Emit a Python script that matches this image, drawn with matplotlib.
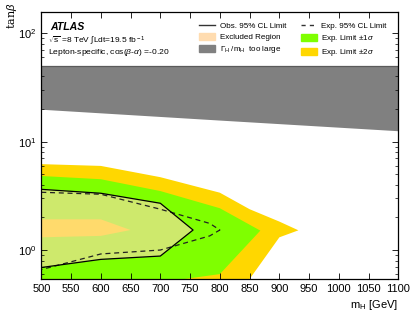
import matplotlib
matplotlib.use("Agg")
import matplotlib.pyplot as plt
from matplotlib.lines import Line2D
from matplotlib.patches import Patch

plt.rcParams['font.family'] = ['Liberation Sans', 'DejaVu Sans']
plt.rcParams['mathtext.fontset'] = 'custom'
plt.rcParams['mathtext.rm'] = 'Liberation Sans'
plt.rcParams['mathtext.it'] = 'Liberation Sans:italic'
plt.rcParams['mathtext.bf'] = 'Liberation Sans:bold'

# +-2 sigma band (outer edge upper / lower)
m_2s_up = [500, 600, 700, 800, 850, 900, 932]
tb_2s_up = [6.2, 5.97, 4.7, 3.38, 2.38, 1.83, 1.52]
m_2s_lo = [932, 900, 850, 800, 700, 500]
tb_2s_lo = [1.52, 1.31, 0.54, 0.45, 0.35, 0.30]

# +-1 sigma band
m_1s_up = [500, 600, 700, 800, 868]
tb_1s_up = [4.82, 4.5, 3.5, 2.43, 1.51]
m_1s_lo = [868, 800, 740, 700, 600, 500]
tb_1s_lo = [1.51, 0.60, 0.54, 0.51, 0.48, 0.45]

# inner part of the band (-1 sigma hole)
m_in_up = [500, 600, 650]
tb_in_up = [1.92, 1.92, 1.53]
m_in_lo = [650, 600, 500]
tb_in_lo = [1.53, 1.35, 1.31]

# observed limit
m_obs = [500, 600, 700, 755, 700, 600, 500]
tb_obs = [3.63, 3.34, 2.70, 1.53, 0.88, 0.82, 0.69]

# expected limit
m_exp = [500, 600, 700, 783, 800, 783, 700, 600, 500]
tb_exp = [3.41, 3.27, 2.38, 1.76, 1.53, 1.35, 1.00, 0.92, 0.66]

# width too large region
m_gam = [500, 800, 1100]
tb_gam_lo = [19.9, 15.8, 12.6]
tb_gam_hi = [50, 50, 50]

yellow = '#ffd700'
green = '#7fff00'
peach = '#ffdcb0'
grey = '#808080'

fig = plt.figure(figsize=(4.15, 3.12), dpi=100)
ax = fig.add_axes([0.0995, 0.1048, 0.8605, 0.8558])

ax.fill(m_2s_up + m_2s_lo, tb_2s_up + tb_2s_lo, color=yellow, lw=0)
ax.fill(m_1s_up + m_1s_lo, tb_1s_up + tb_1s_lo, color=green, lw=0)
ax.fill(m_in_up + m_in_lo, tb_in_up + tb_in_lo, color=yellow, lw=0)
ax.fill(m_obs, tb_obs, color=peach, alpha=0.62, lw=0)
ax.plot(m_exp, tb_exp, color='#222222', lw=0.9, ls=(0, (4, 3)))
ax.plot(m_obs, tb_obs, color='black', lw=0.9)
ax.fill_between(m_gam, tb_gam_lo, tb_gam_hi, color=grey, lw=0)
ax.plot(m_gam, tb_gam_hi, color='#5a5a5a', lw=0.9)

ax.set_yscale('log')
ax.set_xlim(500, 1100)
ax.set_ylim(0.537, 156)
ax.set_xticks(range(500, 1101, 50))
ax.tick_params(which='both', direction='in', top=True, right=True, labelsize=8)
ax.tick_params(which='major', length=4, width=0.6)
ax.tick_params(which='minor', length=2, width=0.5)
for s in ax.spines.values():
    s.set_linewidth(0.9)

ax.set_xlabel(r'm$_{\rm H}$ [GeV]', loc='right', fontsize=8, labelpad=3)
fig.text(0.012, 0.99, r'tan$\beta$', rotation=90, va='top', ha='left',
         fontsize=8, family='DejaVu Serif')

ax.text(0.025, 0.944, 'ATLAS', transform=ax.transAxes, fontsize=7.6,
        fontweight='bold', fontstyle='italic', va='center')
ax.text(0.02, 0.892, r'$\sqrt{\rm s}$ =8 TeV $\int$Ldt=19.5 fb$^{\rm -1}$',
        transform=ax.transAxes, fontsize=6.0, va='center')
ax.text(0.02, 0.851, r'Lepton-specific, cos($\beta$-$\alpha$) =-0.20',
        transform=ax.transAxes, fontsize=6.1, va='center')

handles = [
    Line2D([], [], color='#333333', lw=1),
    Patch(color=peach),
    Patch(color=grey),
    Line2D([], [], color='#333333', lw=1, ls=(0, (3, 3))),
    Patch(color=green),
    Patch(color=yellow),
]
labels = ['Obs. 95% CL Limit', 'Excluded Region', r'$\Gamma_{\rm H}$ /m$_{\rm H}$  too large',
          'Exp. 95% CL Limit', r'Exp. Limit $\pm$1$\sigma$', r'Exp. Limit $\pm$2$\sigma$']
ax.legend(handles, labels, ncol=2, loc='upper left', bbox_to_anchor=(0.425, 0.985),
          frameon=False, fontsize=5.8, handlelength=2.0, handleheight=0.9,
          handletextpad=0.6, columnspacing=1.8, labelspacing=0.38, borderpad=0.2)

fig.savefig('out.png', dpi=100)
